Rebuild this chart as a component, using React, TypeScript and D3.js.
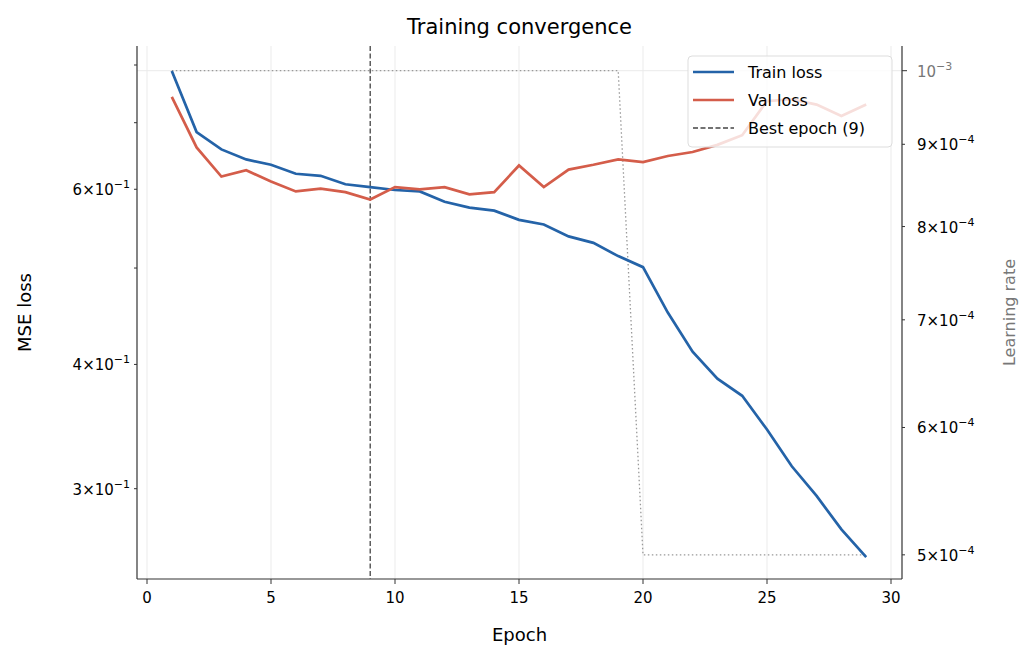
import * as d3 from 'd3';

const epochs = d3.range(1, 30);
const trainLoss = [0.789, 0.685, 0.658, 0.643, 0.635, 0.622, 0.619, 0.607, 0.603, 0.599, 0.597, 0.583, 0.575, 0.571, 0.559, 0.553, 0.538, 0.53, 0.514, 0.501, 0.451, 0.412, 0.387, 0.372, 0.344, 0.316, 0.295, 0.273, 0.256];
const valLoss = [0.743, 0.661, 0.618, 0.627, 0.611, 0.597, 0.601, 0.596, 0.586, 0.603, 0.6, 0.603, 0.593, 0.596, 0.634, 0.603, 0.628, 0.635, 0.643, 0.639, 0.648, 0.654, 0.665, 0.68, 0.736, 0.739, 0.73, 0.711, 0.73];
const learningRate = [...Array(19).fill(1e-3), ...Array(10).fill(5e-4)];
const bestEpoch = 9;
const xTicks = [0, 5, 10, 15, 20, 25, 30];
const leftLabelled = [{ v: 0.6, m: 6 }, { v: 0.4, m: 4 }, { v: 0.3, m: 3 }];
const leftMinor = [0.3, 0.4, 0.5, 0.6, 0.7, 0.8];
const rightLabelled = [{ v: 9e-4, m: 9 }, { v: 8e-4, m: 8 }, { v: 7e-4, m: 7 }, { v: 6e-4, m: 6 }, { v: 5e-4, m: 5 }];

const W = 1034, H = 660;
const L = 137, R = 902, T = 46, B = 579;
const font = 'DejaVu Sans, sans-serif';

export default function App() {
  const x = d3.scaleLinear().domain([0, 30]).range([147, 891]);
  const y = d3.scaleLog().domain([0.2434, 0.836]).range([B, T]);
  const yr = d3.scaleLog().domain([4.83e-4, 1.036e-3]).range([B, T]);
  const line = (vals: number[], sc: d3.ScaleLogarithmic<number, number>) =>
    d3.line<number>().x((_, i) => x(epochs[i])).y((d) => sc(d))(vals) || '';

  return (
    <svg width={W} height={H} style={{ position: 'absolute', left: 0, top: 0, fontFamily: font }}>
      <rect width={W} height={H} fill="#fff" />
      {/* grid */}
      {xTicks.map((t) => (
        <line key={t} x1={x(t)} x2={x(t)} y1={T} y2={B} stroke="#ebebeb" strokeWidth={1} />
      ))}
      <line x1={L} x2={R} y1={yr(1e-3)} y2={yr(1e-3)} stroke="#ebebeb" />
      {/* lr */}
      <path d={line(learningRate, yr)} fill="none" stroke="#999" strokeWidth={1.3} strokeDasharray="1.5,2.5" />
      <line x1={x(bestEpoch)} x2={x(bestEpoch)} y1={T} y2={B} stroke="#444" strokeWidth={1.3} strokeDasharray="5,2.5" />
      <path d={line(trainLoss, y)} fill="none" stroke="#2463a8" strokeWidth={2.7} />
      <path d={line(valLoss, y)} fill="none" stroke="#d45d4a" strokeWidth={2.7} />
      {/* axes */}
      <line x1={L} x2={L} y1={T} y2={B} stroke="#333" strokeWidth={1.2} />
      <line x1={R} x2={R} y1={T} y2={B} stroke="#333" strokeWidth={1.2} />
      <line x1={L} x2={R} y1={B} y2={B} stroke="#333" strokeWidth={1.2} />
      {xTicks.map((t) => (
        <g key={t}>
          <line x1={x(t)} x2={x(t)} y1={B} y2={B + 5} stroke="#333" />
          <text x={x(t)} y={B + 24} textAnchor="middle" fontSize={15}>{t}</text>
        </g>
      ))}
      {leftMinor.map((v) => (
        <line key={v} x1={L - 3} x2={L} y1={y(v)} y2={y(v)} stroke="#333" />
      ))}
      {leftLabelled.map((d) => (
        <text key={d.v} x={L - 7} y={y(d.v) + 6} textAnchor="end" fontSize={15}>
          {d.m}×10<tspan dy={-7} fontSize={11}>−1</tspan>
        </text>
      ))}
      <line x1={R} x2={R + 5} y1={yr(1e-3)} y2={yr(1e-3)} stroke="#333" />
      <text x={R + 15} y={yr(1e-3) + 6} fontSize={15} fill="#777">10<tspan dy={-7} fontSize={11}>−3</tspan></text>
      {rightLabelled.map((d) => (
        <g key={d.v}>
          <line x1={R} x2={R + 3} y1={yr(d.v)} y2={yr(d.v)} stroke="#333" />
          <text x={R + 15} y={yr(d.v) + 6} fontSize={15}>
            {d.m}×10<tspan dy={-7} fontSize={11}>−4</tspan>
          </text>
        </g>
      ))}
      <text x={(L + R) / 2} y={34} textAnchor="middle" fontSize={21}>Training convergence</text>
      <text x={(L + R) / 2} y={641} textAnchor="middle" fontSize={18}>Epoch</text>
      <text transform={`translate(31,${(T + B) / 2}) rotate(-90)`} textAnchor="middle" fontSize={18}>MSE loss</text>
      <text transform={`translate(1015,${(T + B) / 2}) rotate(-90)`} textAnchor="middle" fontSize={16} fill="#777">Learning rate</text>
      {/* legend */}
      <g>
        <rect x={688} y={56} width={204} height={91} rx={4} fill="#fff" fillOpacity={0.8} stroke="#ddd" />
        <line x1={693} x2={734} y1={72} y2={72} stroke="#2463a8" strokeWidth={2.5} />
        <text x={748} y={78} fontSize={16}>Train loss</text>
        <line x1={693} x2={734} y1={100} y2={100} stroke="#d45d4a" strokeWidth={2.5} />
        <text x={748} y={106} fontSize={16}>Val loss</text>
        <line x1={693} x2={734} y1={128} y2={128} stroke="#444" strokeWidth={1.3} strokeDasharray="5,2.5" />
        <text x={748} y={134} fontSize={16}>Best epoch (9)</text>
      </g>
    </svg>
  );
}
